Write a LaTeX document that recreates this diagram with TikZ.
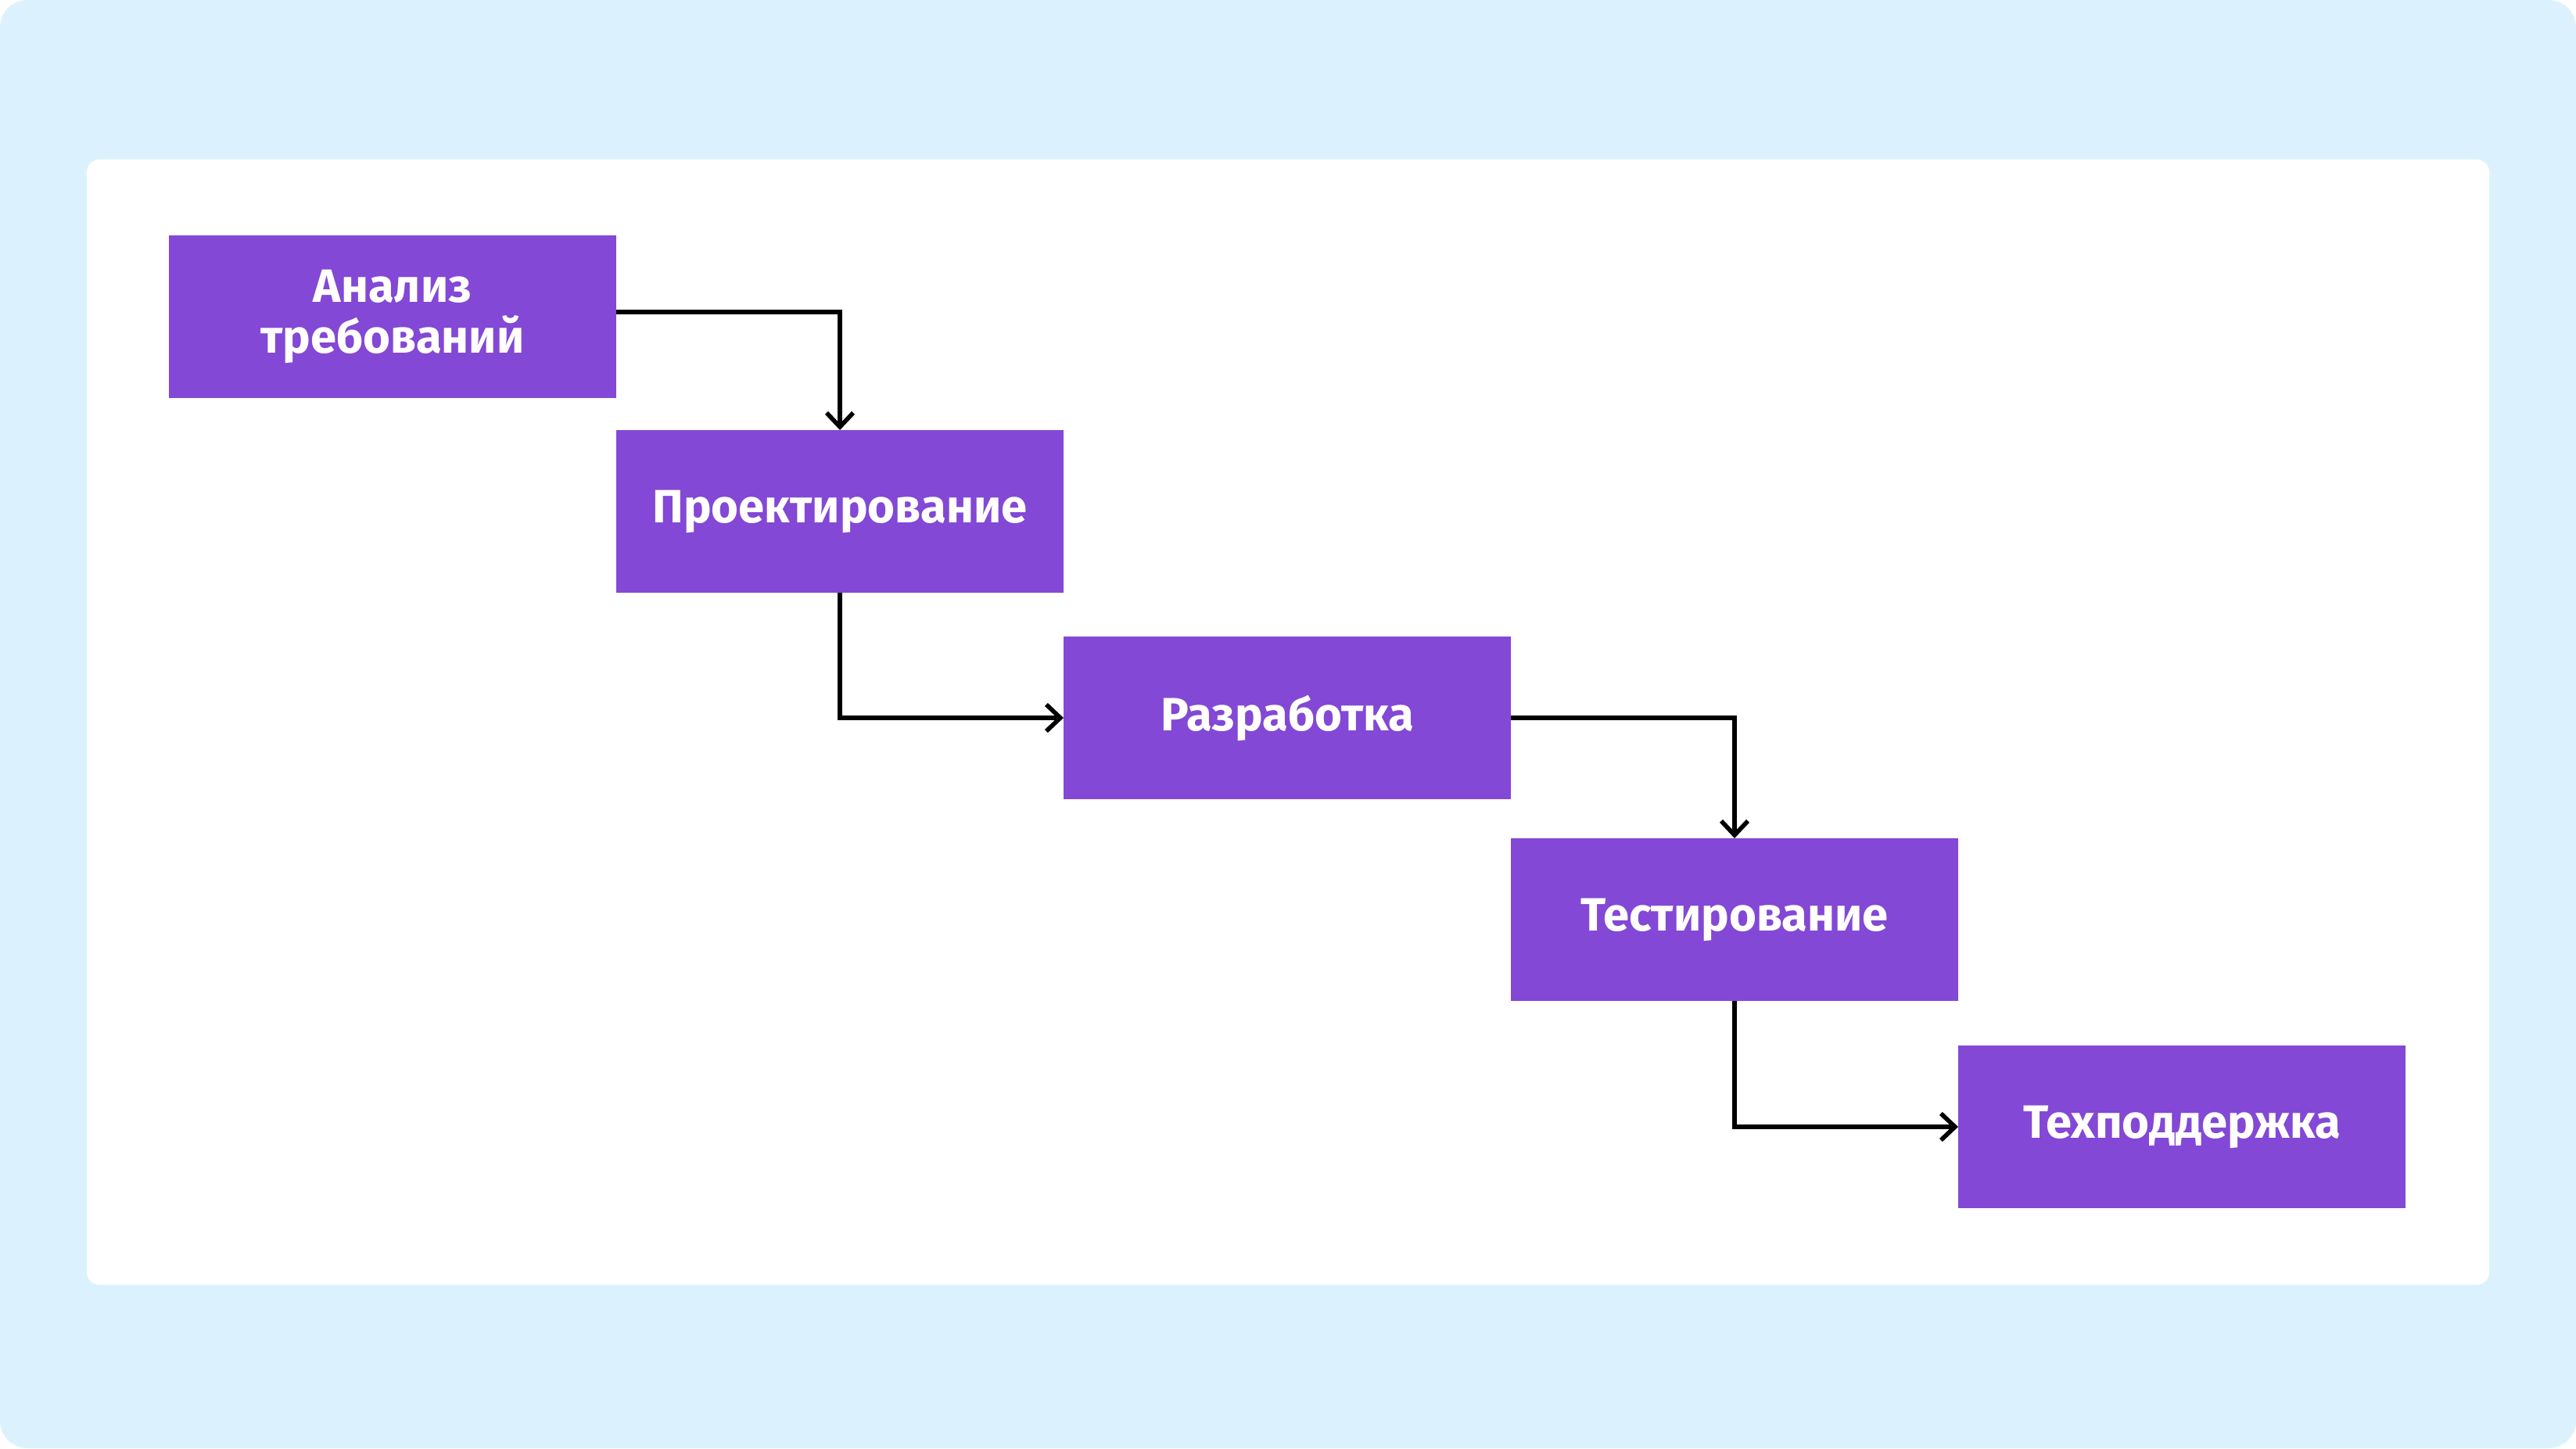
\documentclass[tikz,border=0pt]{standalone}
\usepackage{fontspec}
\setmainfont{Fira Sans}
\usepackage{tikz}
\usetikzlibrary{positioning}
\usetikzlibrary{arrows.meta}

\definecolor{PanelBlue}{RGB}{219,242,254}
\definecolor{StagePurple}{RGB}{131,72,213}

\tikzset{
	stage/.style={draw=none, fill=StagePurple, text=white, minimum width=5.72cm, minimum height=2.08cm,
		inner sep=0pt, outer sep=0pt, align=center, font=\fontsize{17}{18.5}\selectfont\bfseries},
	flow/.style={line width=1.6pt, -{Straight Barb[length=1.8mm, width=3.4mm, line width=1.6pt]}},
}

\begin{document}
\begin{tikzpicture}
	
	% ---------------------
	% Background & panel
	\fill[PanelBlue, rounded corners=0.35cm] (0,0) rectangle (32.94,18.52);
	\fill[white, rounded corners=0.16cm] (1.11,2.09) rectangle (31.83,16.48);
	\useasboundingbox (0,0) rectangle (32.94,18.52);
	
	% ---------------------
	% Stage positions
	\coordinate (Analysis) at (5.02,14.47);
	\path (Analysis) +(5.72,-2.49) coordinate (Design);
	\path (Design)   +(5.72,-2.64) coordinate (Coding);
	\path (Coding)   +(5.72,-2.58) coordinate (Testing);
	\path (Testing)  +(5.72,-2.65) coordinate (Support);
	
	% ---------------------
	% Stages
	\node[stage] (ana) at (Analysis) {Анализ\\требований};
	\node[stage] (des) at (Design)   {Проектирование};
	\node[stage] (cod) at (Coding)   {Разработка};
	\node[stage] (tst) at (Testing)  {Тестирование};
	\node[stage] (sup) at (Support)  {Техподдержка};
	
	% ---------------------
	% Flow
	\draw[flow] ([yshift=0.06cm]ana.east) -| (des.north);
	\draw[flow] (des.south) |- (cod.west);
	\draw[flow] (cod.east) -| (tst.north);
	\draw[flow] (tst.south) |- (sup.west);
	
\end{tikzpicture}
\end{document}
